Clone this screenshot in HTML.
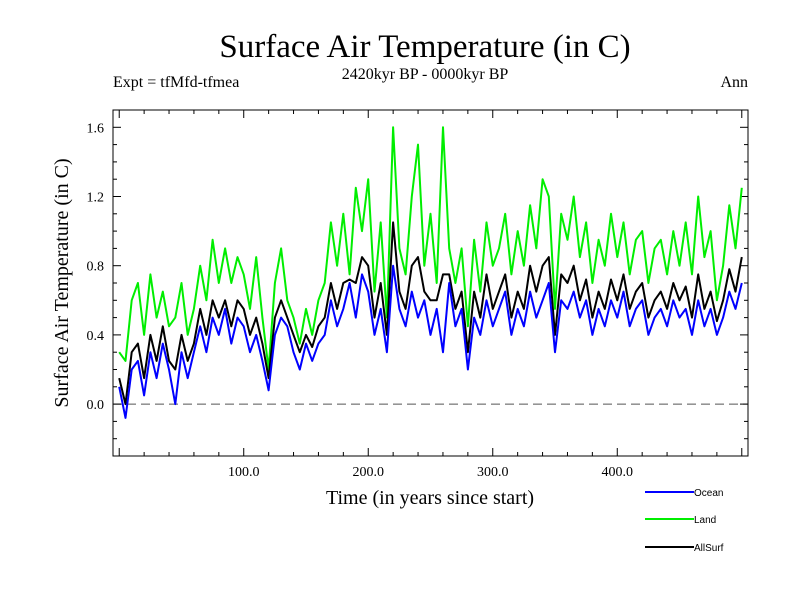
<!DOCTYPE html>
<html><head><meta charset="utf-8"><style>
body{margin:0;background:#fff;}
svg text{font-family:"Liberation Serif",serif;}
</style></head><body>
<svg id="chart" width="800" height="600" xmlns="http://www.w3.org/2000/svg">
<rect width="800" height="600" fill="#fff"/>
<text x="425" y="57" font-size="33" text-anchor="middle">Surface Air Temperature (in C)</text>
<text x="425" y="79" font-size="16" text-anchor="middle">2420kyr BP - 0000kyr BP</text>
<text x="113" y="87" font-size="16">Expt = tfMfd-tfmea</text>
<text x="748" y="87" font-size="16" text-anchor="end">Ann</text>
<text transform="translate(68,283) rotate(-90)" font-size="20" text-anchor="middle">Surface Air Temperature (in C)</text>
<text x="430" y="504" font-size="20" text-anchor="middle">Time (in years since start)</text>
<g id="axes"></g>
<g id="series"></g>
<g id="legend"></g>
</svg>
<script>
const years=[];for(let i=0;i<=100;i++)years.push(i*5);
const ocean=[0.1,-0.08,0.2,0.25,0.05,0.3,0.15,0.35,0.2,0.0,0.3,0.15,0.3,0.45,0.3,0.5,0.4,0.55,0.35,0.5,0.45,0.3,0.4,0.25,0.08,0.4,0.5,0.45,0.3,0.2,0.35,0.25,0.35,0.4,0.6,0.45,0.55,0.7,0.5,0.75,0.65,0.4,0.55,0.3,0.8,0.55,0.45,0.65,0.5,0.6,0.4,0.55,0.3,0.7,0.45,0.55,0.2,0.5,0.4,0.6,0.45,0.55,0.65,0.4,0.55,0.45,0.65,0.5,0.6,0.7,0.3,0.6,0.55,0.65,0.5,0.6,0.4,0.55,0.45,0.6,0.5,0.65,0.45,0.55,0.6,0.4,0.5,0.55,0.45,0.6,0.5,0.55,0.4,0.6,0.45,0.55,0.4,0.5,0.65,0.55,0.7];
const land=[0.3,0.25,0.6,0.7,0.4,0.75,0.5,0.65,0.45,0.5,0.7,0.4,0.55,0.8,0.6,0.95,0.7,0.9,0.7,0.85,0.75,0.55,0.85,0.5,0.2,0.7,0.9,0.6,0.5,0.35,0.55,0.4,0.6,0.7,1.05,0.8,1.1,0.75,1.25,1.0,1.3,0.65,1.05,0.5,1.6,0.9,0.75,1.2,1.5,0.8,1.1,0.7,1.6,0.9,0.7,0.9,0.45,0.95,0.65,1.05,0.8,0.9,1.1,0.75,1.0,0.8,1.15,0.9,1.3,1.2,0.55,1.1,0.95,1.2,0.85,1.05,0.7,0.95,0.8,1.1,0.85,1.05,0.75,0.95,1.0,0.7,0.9,0.95,0.75,1.0,0.8,1.05,0.75,1.2,0.85,1.0,0.6,0.8,1.15,0.9,1.25];
const allsurf=[0.15,0.0,0.3,0.35,0.15,0.4,0.25,0.45,0.25,0.2,0.4,0.25,0.35,0.55,0.4,0.6,0.5,0.6,0.45,0.6,0.55,0.4,0.5,0.35,0.15,0.5,0.6,0.5,0.4,0.3,0.4,0.33,0.45,0.5,0.7,0.55,0.7,0.72,0.7,0.85,0.8,0.5,0.7,0.4,1.05,0.65,0.55,0.8,0.85,0.65,0.6,0.6,0.75,0.75,0.55,0.65,0.3,0.65,0.5,0.75,0.55,0.65,0.75,0.5,0.65,0.55,0.8,0.65,0.8,0.85,0.4,0.75,0.7,0.8,0.6,0.72,0.5,0.65,0.55,0.72,0.6,0.75,0.55,0.65,0.7,0.5,0.6,0.65,0.55,0.7,0.6,0.68,0.5,0.75,0.55,0.65,0.48,0.6,0.78,0.65,0.85];
const yTicks=[0.0,0.4,0.8,1.2,1.6];
const yTickLabels=["0.0","0.4","0.8","1.2","1.6"];
const xTicks=[100,200,300,400];
const xTickLabels=["100.0","200.0","300.0","400.0"];

const L=113,R=748,T=110,B=456,XMIN=-5,XMAX=505,YMIN=-0.3,YMAX=1.7;
const sx=v=>L+(v-XMIN)/(XMAX-XMIN)*(R-L);
const sy=v=>B-(v-YMIN)/(YMAX-YMIN)*(B-T);
const NS="http://www.w3.org/2000/svg";
function mk(tag,attrs,parent){const e=document.createElementNS(NS,tag);for(const k in attrs)e.setAttribute(k,attrs[k]);parent.appendChild(e);return e;}
const axes=document.getElementById('axes');
let e=mk('rect',{x:L,y:T,width:R-L,height:B-T,fill:'none',stroke:'#000','stroke-width':1},axes);


e=mk('line',{x1:L,x2:R,y1:sy(0),y2:sy(0),stroke:'#555','stroke-width':1,'stroke-dasharray':'9,5'},axes);


for(let v=-0.3;v<=1.71;v+=0.1){const y=sy(Math.round(v*10)/10);const major=Math.abs(Math.round(v*10)%4)===0;const len=major?8:4;
mk('line',{x1:L,x2:L+len,y1:y,y2:y,stroke:'#000'},axes);mk('line',{x1:R,x2:R-len,y1:y,y2:y,stroke:'#000'},axes);}
for(let v=0;v<=500;v+=20){const x=sx(v);const len=v%100===0?8:4;
mk('line',{x1:x,x2:x,y1:B,y2:B-len,stroke:'#000'},axes);mk('line',{x1:x,x2:x,y1:T,y2:T+len,stroke:'#000'},axes);}
yTicks.forEach((v,i)=>{const t=mk('text',{x:104,y:sy(v)+5,'font-size':14,'text-anchor':'end'},axes);t.textContent=yTickLabels[i];

});
xTicks.forEach((v,i)=>{const t=mk('text',{x:sx(v),y:476,'font-size':14,'text-anchor':'middle'},axes);t.textContent=xTickLabels[i];

});
const ser=document.getElementById('series');
function line(data,color,name){const d=data.map((v,i)=>(i?'L':'M')+sx(years[i]).toFixed(1)+','+sy(v).toFixed(1)).join('');
const p=mk('path',{d:d,fill:'none',stroke:color,'stroke-width':2,'stroke-linejoin':'round'},ser);

}
line(land,'#00ee00','land-line');
line(allsurf,'#000000','allsurf-line');
line(ocean,'#0000ff','ocean-line');
const lg=document.getElementById('legend');
[['Ocean','#0000ff',492],['Land','#00ee00',519],['AllSurf','#000000',547]].forEach(a=>{
const g=mk('g',{},lg);


mk('line',{x1:645,x2:694,y1:a[2],y2:a[2],stroke:a[1],'stroke-width':2},g);
const t=mk('text',{x:694,y:a[2]+4,'font-size':10,style:'font-family:"Liberation Sans",sans-serif'},g);t.textContent=a[0];});
</script>
</body></html>
